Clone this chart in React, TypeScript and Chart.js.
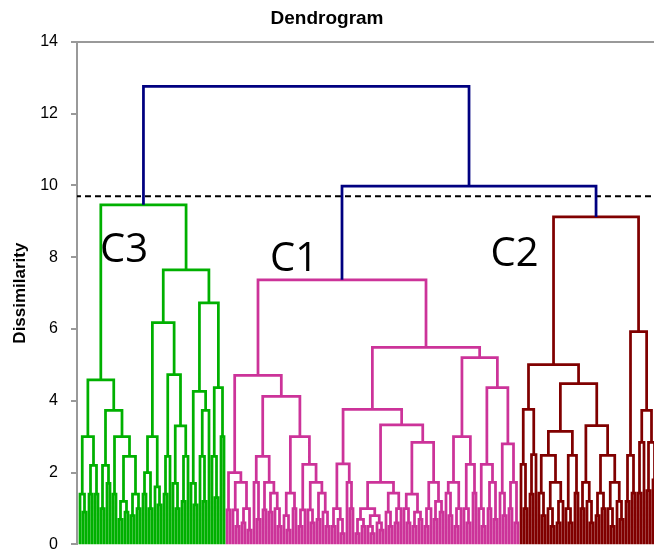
import React, { useEffect, useRef } from "react";
import { Chart, registerables } from "chart.js";

Chart.register(...registerables);

// A node is either a leaf (0) or [dissimilarity, left, right]
type Node = 0 | [number, Node, Node];

// ---- Cluster C3 (green) ----
const C3_HEIGHT = 9.46;
const C3_A: Node = [4.58,
  [3.0, [1.4, 0, [0.9, 0, 0]], [2.2, [1.4, 0, 0], [1.4, 0, 0]]],
  [3.73, [2.2, [1.0, 0, 0], [1.7, 0, 0]],
    [3.0, [1.4, 0, 0], [2.45, [1.2, [0.7, 0, 0], [0.9, 0, 0]], [1.4, [0.8, 0, 0], [1.0, 0, 0]]]]]];
const C3_B: Node = [7.65,
  [6.18, [3.0, [2.0, [1.4, 0, 0], [1.0, 0, 0]], [1.6, 0, [1.1, 0, 0]]],
    [4.73, [2.45, [1.4, 0, 0], 0], [3.3, [1.7, 0, [1.0, 0, 0]], [2.45, [1.2, 0, 0], 0]]]],
  [6.73, [4.26, [1.7, 0, [1.1, 0, 0]], [3.73, [2.45, 0, [1.2, 0, 0]], 0]],
    [4.37, [2.45, 0, [1.3, 0, 0]], [3.0, 0, 0]]]];

// ---- Cluster C1 (magenta) ----
const C1_HEIGHT = 7.37;
const C1_L: Node = [4.71,
  [2.0, [0.96, 0, 0], [1.73, [0.96, 0, [0.5, 0, 0]], [1.0, [0.6, 0, 0], [0.4, 0, 0]]]],
  [4.12,
    [2.45, [1.73, 0, [0.7, 0, 0]], [1.73, [0.96, 0, 0], [1.43, [0.9, 0, 0], [1.0, 0, [0.5, 0, 0]]]]],
    [3.0, [1.43, [0.8, 0, [0.4, 0, 0]], [1.0, 0, 0]],
      [2.23, [0.96, [0.5, 0, 0], 0], [1.73, [0.96, 0, [0.6, 0, 0]], [1.43, [0.7, 0, 0], [0.9, 0, [0.5, 0, 0]]]]]]]];
const C1_R: Node = [5.49,
  [3.76,
    [2.24, [1.0, [0.5, 0, 0], [0.7, 0, [0.3, 0, 0]]], [1.73, 0, [1.0, 0, 0]]],
    [3.33,
      [1.73, [1.0, [0.7, [0.3, 0, 0], [0.5, 0, 0]], [0.8, [0.5, 0, [0.3, 0, 0]], [0.6, 0, [0.4, 0, 0]]]],
        [1.43, [0.9, 0, [0.5, 0, 0]], [1.0, [0.6, 0, 0], 0]]],
      [2.84, [1.4, [1.0, 0, [0.6, 0, 0]], [0.9, [0.5, 0, 0], [0.7, 0, 0]]],
        [1.73, [1.0, [0.5, 0, 0], 0], [1.2, [0.7, 0, 0], [0.9, 0, 0]]]]]],
  [5.2,
    [3.0, [1.73, [1.43, 0, [0.8, 0, 0]], [1.0, [0.5, 0, 0], 0]], [2.23, [1.0, 0, [0.6, 0, 0]], [1.43, 0, 0]]],
    [4.37, [2.23, [1.0, 0, [0.5, 0, 0]], [1.73, [1.0, 0, 0], [0.7, 0, 0]]],
      [2.8, [1.43, 0, [0.8, 0, 0]], [1.73, [1.0, 0, 0], [0.6, 0, 0]]]]]];

// ---- Cluster C2 (dark red) ----
const C2_HEIGHT = 9.12;
const C2_L: Node = [5.01,
  [3.76, [2.23, 0, [1.0, 0, 0]], [2.5, [1.4, 0, 0], 0]],
  [4.48,
    [3.15, [2.48, [1.43, 0, [0.8, 0, 0]], [1.73, [1.0, 0, [0.5, 0, 0]], [1.2, [0.6, 0, 0], 0]]],
      [2.48, [1.0, 0, [0.6, 0, 0]], [1.43, 0, 0]]],
    [3.31, [1.73, [1.0, 0, 0], [1.2, 0, [0.6, 0, 0]]],
      [2.48, [1.43, [0.8, 0, 0], [1.0, 0, 0]], [1.73, [1.0, 0, [0.5, 0, 0]], [1.2, 0, [0.7, 0, 0]]]]]]];
const C2_R: Node = [5.93,
  [2.48, [1.2, 0, 0], [1.43, 0, 0]],
  [3.73, [2.84, [1.43, 0, 0], 0], [2.84, [1.5, 0, 0], [1.8, 0, 0]]]];

// ---- Upper links and cut ----
const C1_C2_HEIGHT = 9.98;
const ROOT_HEIGHT = 12.76;
const CUT_LEVEL = 9.7;
const CLUSTER_NAMES = ["C3", "C1", "C2"];
const Y_MIN = 0;
const Y_MAX = 14;
const Y_STEP = 2;

type Pt = { x: number; y: number | null };

function layoutTree(node: Node, counter: { n: number }, out: Pt[]): { x: number; h: number } {
  if (node === 0) {
    const x = counter.n++;
    return { x, h: 0 };
  }
  const [h, l, r] = node;
  const a = layoutTree(l, counter, out);
  const b = layoutTree(r, counter, out);
  out.push({ x: a.x, y: a.h }, { x: a.x, y: h }, { x: b.x, y: h }, { x: b.x, y: b.h }, { x: b.x, y: null });
  return { x: (a.x + b.x) / 2, h };
}

const labelPlugin = {
  id: "clusterLabels",
  afterDatasetsDraw(chart: any, _args: any, opts: any) {
    const { ctx, scales } = chart;
    ctx.save();
    ctx.font = opts.font;
    ctx.fillStyle = opts.color;
    ctx.textAlign = "center";
    ctx.textBaseline = "alphabetic";
    for (const it of opts.items) {
      ctx.fillText(it.text, scales.x.getPixelForValue(it.x), scales.y.getPixelForValue(it.y));
    }
    ctx.restore();
  },
};

export default function App() {
  const ref = useRef<HTMLCanvasElement | null>(null);
  useEffect(() => {
    if (!ref.current) return;
    const counter = { n: 0 };
    const green: Pt[] = [];
    const magenta: Pt[] = [];
    const red: Pt[] = [];
    const navy: Pt[] = [];
    const c3 = layoutTree([C3_HEIGHT, C3_A, C3_B], counter, green);
    const c1 = layoutTree([C1_HEIGHT, C1_L, C1_R], counter, magenta);
    const c2 = layoutTree([C2_HEIGHT, C2_L, C2_R], counter, red);
    const midX = (c1.x + c2.x) / 2;
    navy.push({ x: c1.x, y: c1.h }, { x: c1.x, y: C1_C2_HEIGHT }, { x: c2.x, y: C1_C2_HEIGHT }, { x: c2.x, y: c2.h }, { x: c2.x, y: null });
    navy.push({ x: c3.x, y: c3.h }, { x: c3.x, y: ROOT_HEIGHT }, { x: midX, y: ROOT_HEIGHT }, { x: midX, y: C1_C2_HEIGHT }, { x: midX, y: null });

    const lineDs = (data: Pt[], color: string) => ({
      data,
      borderColor: color,
      backgroundColor: color,
      borderWidth: 2.75,
      pointRadius: 0,
      tension: 0,
      fill: false,
      spanGaps: false,
    });

    const chart = new Chart(ref.current, {
      type: "line",
      data: {
        datasets: [
          lineDs(navy, "#000080"),
          lineDs(green, "#00B000"),
          lineDs(magenta, "#CC3399"),
          lineDs(red, "#800000"),
          {
            data: [{ x: -5, y: CUT_LEVEL }, { x: 300, y: CUT_LEVEL }],
            borderColor: "#000",
            borderWidth: 2,
            borderDash: [6, 4],
            pointRadius: 0,
            fill: false,
          },
        ] as any,
      },
      options: {
        animation: false,
        responsive: false,
        devicePixelRatio: 1,
        layout: { padding: { left: 0, right: 0, top: 0, bottom: 20 } },
        plugins: {
          legend: { display: false },
          tooltip: { enabled: false },
          title: {
            display: true,
            text: "Dendrogram",
            color: "#000",
            font: { family: "Liberation Sans", size: 19, weight: "bold" },
            padding: { top: 7, bottom: 12 },
          },
          clusterLabels: {
            font: '40px "Open Sans"',
            color: "#000",
            items: [
              { text: CLUSTER_NAMES[0], x: 14.67, y: 7.875 },
              { text: CLUSTER_NAMES[1], x: 71.33, y: 7.625 },
              { text: CLUSTER_NAMES[2], x: 144.83, y: 7.76 },
            ],
          },
        } as any,
        scales: {
          x: {
            type: "linear",
            position: "top",
            min: -1,
            max: -1 + 577 / 3,
            ticks: { display: false },
            grid: { display: false, drawTicks: false },
            border: { display: true, color: "#999", width: 2 },
          },
          y: {
            min: Y_MIN,
            max: Y_MAX,
            ticks: {
              stepSize: Y_STEP,
              color: "#000",
              padding: 13,
              font: { family: "Liberation Sans", size: 16 },
            },
            grid: { display: true, drawOnChartArea: false, drawTicks: true, tickLength: 6, color: "#999", lineWidth: 2 },
            border: { display: true, color: "#999", width: 2 },
            title: {
              display: true,
              text: "Dissimilarity",
              color: "#000",
              font: { family: "Liberation Sans", size: 17, weight: "bold" },
              padding: { top: 10, bottom: 0 },
            },
            afterFit: (scale: any) => {
              scale.width = 77;
            },
          },
        } as any,
      },
      plugins: [labelPlugin],
    });
    return () => chart.destroy();
  }, []);

  return (
    <div style={{ position: "fixed", left: 0, top: 0, width: 654, height: 549, overflow: "hidden", background: "#fff" }}>
      <canvas ref={ref} width={654} height={567} style={{ display: "block" }} />
    </div>
  );
}
